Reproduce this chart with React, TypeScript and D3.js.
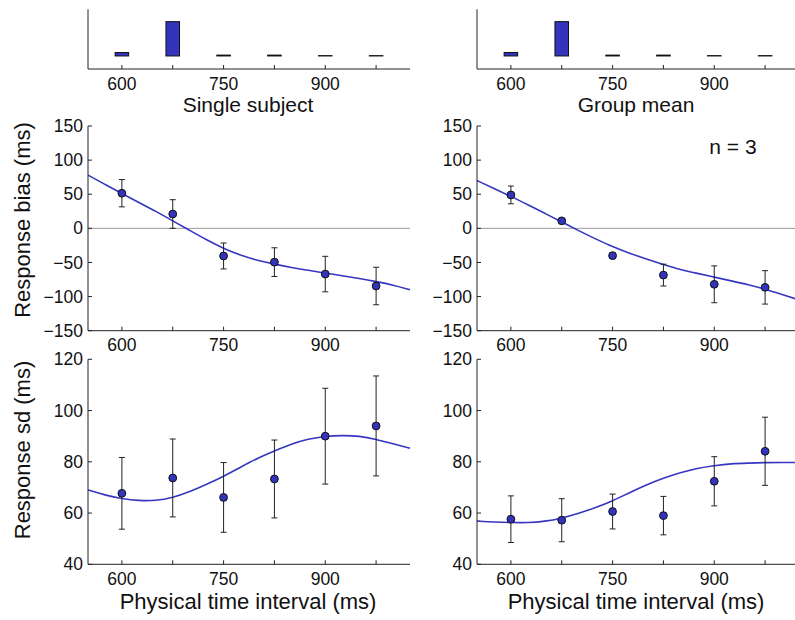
import React from "react";
import * as d3 from "d3";

// ---- data ----
const intervals = [600, 675, 750, 825, 900, 975];
const tickLabels = [600, 750, 900];
const histSingle = [10, 100, 2.5, 2.5, 1, 1];
const histGroup = [10, 100, 2.5, 2.5, 1, 1];

const biasSingle = [51.5, 21, -40.5, -49.5, -67, -84.5];
const biasSingleErr = [20, 21, 19, 21, 26, 27.5];
const biasGroup = [49, 11, -40, -68.5, -82, -86.5];
const biasGroupErr = [13, 3, 4, 16, 27, 24.5];

const sdSingle = [67.7, 73.7, 66.1, 73.3, 90, 94];
const sdSingleErr = [14, 15.2, 13.6, 15.2, 18.7, 19.5];
const sdGroup = [57.6, 57.2, 60.6, 59, 72.4, 84.1];
const sdGroupErr = [9.1, 8.4, 6.8, 7.5, 9.6, 13.3];

// fitted curves
const curveX = [550, 575, 600, 625, 650, 675, 700, 725, 750, 775, 800, 825, 850, 875, 900, 925, 950, 975, 1000, 1025];
const biasSingleFit = [78, 64.5, 51, 38, 25, 11, -3, -17, -29.5, -39.5, -47, -52.5, -57.5, -61.5, -65.5, -69.5, -73.5, -78, -83, -90];
const biasGroupFit = [70, 58.5, 47, 34.5, 22, 9.5, -3.5, -15.5, -27, -36.5, -45, -53, -60.5, -66, -71.5, -77, -82.5, -89, -97, -105];
const sdSingleFit = [69, 67, 65.6, 64.8, 64.8, 66, 68.3, 71.2, 74.3, 77.9, 81.4, 84.2, 87, 88.9, 90, 90.3, 90.1, 88.8, 87, 85.3];
const sdGroupFit = [56.9, 56.5, 56.3, 56.2, 56.7, 58, 59.9, 62.1, 64.7, 68, 71, 73.6, 75.8, 77.5, 78.5, 79.3, 79.5, 79.7, 79.7, 79.7];

const BLUE = "#3333bb";
const LINE = "#3636c2";
const AX = "#222";
const FONT = "'Liberation Sans', Arial, Helvetica, sans-serif";

type Sc = d3.ScaleLinear<number, number>;

function XAxis({ x, y, labels }: { x: Sc; y: number; labels: boolean }) {
  const [r0, r1] = x.range();
  return (
    <g>
      <line x1={r0} x2={r1} y1={y} y2={y} stroke={AX} strokeWidth={1} />
      {intervals.map((v) => (
        <line key={v} x1={x(v)} x2={x(v)} y1={y} y2={y - 4} stroke={AX} strokeWidth={1} />
      ))}
      {labels &&
        tickLabels.map((v) => (
          <text key={v} x={x(v)} y={y + 20.5} textAnchor="middle" fontSize={17.5} fontFamily={FONT} fill="#111">
            {v}
          </text>
        ))}
    </g>
  );
}

function YAxis({ x0, y, ticks }: { x0: number; y: Sc; ticks: number[] }) {
  const [r0, r1] = y.range();
  return (
    <g>
      <line x1={x0} x2={x0} y1={r0} y2={r1} stroke={AX} strokeWidth={1} />
      {ticks.map((v) => (
        <g key={v}>
          <line x1={x0} x2={x0 + 4} y1={y(v)} y2={y(v)} stroke={AX} strokeWidth={1} />
          <text x={x0 - 5} y={y(v)} dy="0.35em" textAnchor="end" fontSize={17.5} fontFamily={FONT} fill="#111">
            {v < 0 ? "\u2212" + Math.abs(v) : v}
          </text>
        </g>
      ))}
    </g>
  );
}

function Hist({ x, vals }: { x: Sc; vals: number[] }) {
  const y = d3.scaleLinear().domain([-38, 136]).range([69, 9.3]);
  const x0 = x.range()[0];
  return (
    <g>
      <line x1={x0} x2={x0} y1={y(136)} y2={y(-38)} stroke={AX} strokeWidth={1} />
      {vals.map((v, i) => (
        <rect
          key={i}
          x={x(intervals[i] - 10)}
          width={x(intervals[i] + 10) - x(intervals[i] - 10)}
          y={y(v)}
          height={Math.max(0.01, y(0) - y(v))}
          fill={BLUE}
          stroke="#111"
          strokeWidth={1}
        />
      ))}
      <XAxis x={x} y={69} labels={true} />
    </g>
  );
}

function DataPanel({
  x, y, ticks, vals, errs, fit, zero,
}: { x: Sc; y: Sc; ticks: number[]; vals: number[]; errs: number[]; fit: number[]; zero: boolean }) {
  const line = d3
    .line<number>()
    .x((_, i) => x(curveX[i]))
    .y((d) => y(d))
    .curve(d3.curveBasis);
  const [r0, r1] = x.range();
  return (
    <g>
      {zero && <line x1={r0} x2={r1} y1={y(0)} y2={y(0)} stroke="#999" strokeWidth={1} />}
      <path d={line(fit) || ""} fill="none" stroke={LINE} strokeWidth={1.6} />
      {vals.map((v, i) => {
        const cx = x(intervals[i]);
        const lo = y(v - errs[i]);
        const hi = y(v + errs[i]);
        return (
          <g key={i}>
            <line x1={cx} x2={cx} y1={lo} y2={hi} stroke="#222" strokeWidth={1} />
            <line x1={cx - 3} x2={cx + 3} y1={lo} y2={lo} stroke="#222" strokeWidth={1} />
            <line x1={cx - 3} x2={cx + 3} y1={hi} y2={hi} stroke="#222" strokeWidth={1} />
            <circle cx={cx} cy={y(v)} r={3.9} fill={BLUE} stroke="#111" strokeWidth={1} />
          </g>
        );
      })}
      <YAxis x0={r0} y={y} ticks={ticks} />
      <XAxis x={x} y={y.range()[0]} labels={true} />
    </g>
  );
}

export default function App() {
  const xL = d3.scaleLinear().domain([550, 1025]).range([88, 410]);
  const xR = d3.scaleLinear().domain([550, 1025]).range([477, 799]);
  const yBias = d3.scaleLinear().domain([-150, 150]).range([330.7, 126]);
  const ySd = d3.scaleLinear().domain([40, 120]).range([564.3, 359.3]);
  const biasTicks = [-150, -100, -50, 0, 50, 100, 150];
  const sdTicks = [40, 60, 80, 100, 120];

  return (
    <svg
      width={795}
      height={620}
      style={{ position: "absolute", left: 0, top: 0, background: "#fff" }}
      fontFamily={FONT}
    >
      <rect width={795} height={620} fill="#fff" />
      <Hist x={xL} vals={histSingle} />
      <Hist x={xR} vals={histGroup} />
      <text x={248} y={111.5} textAnchor="middle" fontSize={21} fill="#111">Single subject</text>
      <text x={636} y={111.5} textAnchor="middle" fontSize={21} fill="#111">Group mean</text>

      <DataPanel x={xL} y={yBias} ticks={biasTicks} vals={biasSingle} errs={biasSingleErr} fit={biasSingleFit} zero={true} />
      <DataPanel x={xR} y={yBias} ticks={biasTicks} vals={biasGroup} errs={biasGroupErr} fit={biasGroupFit} zero={true} />
      <DataPanel x={xL} y={ySd} ticks={sdTicks} vals={sdSingle} errs={sdSingleErr} fit={sdSingleFit} zero={false} />
      <DataPanel x={xR} y={ySd} ticks={sdTicks} vals={sdGroup} errs={sdGroupErr} fit={sdGroupFit} zero={false} />

      <text x={733} y={147} dy="0.35em" textAnchor="middle" fontSize={21} fill="#111">n = 3</text>

      <text transform="translate(22,220) rotate(-90)" dy="0.35em" textAnchor="middle" fontSize={22} fill="#111">
        Response bias (ms)
      </text>
      <text transform="translate(22,450) rotate(-90)" dy="0.35em" textAnchor="middle" fontSize={22} fill="#111">
        Response sd (ms)
      </text>
      <text x={248} y={609} textAnchor="middle" fontSize={22} fill="#111">Physical time interval (ms)</text>
      <text x={636} y={609} textAnchor="middle" fontSize={22} fill="#111">Physical time interval (ms)</text>
    </svg>
  );
}
